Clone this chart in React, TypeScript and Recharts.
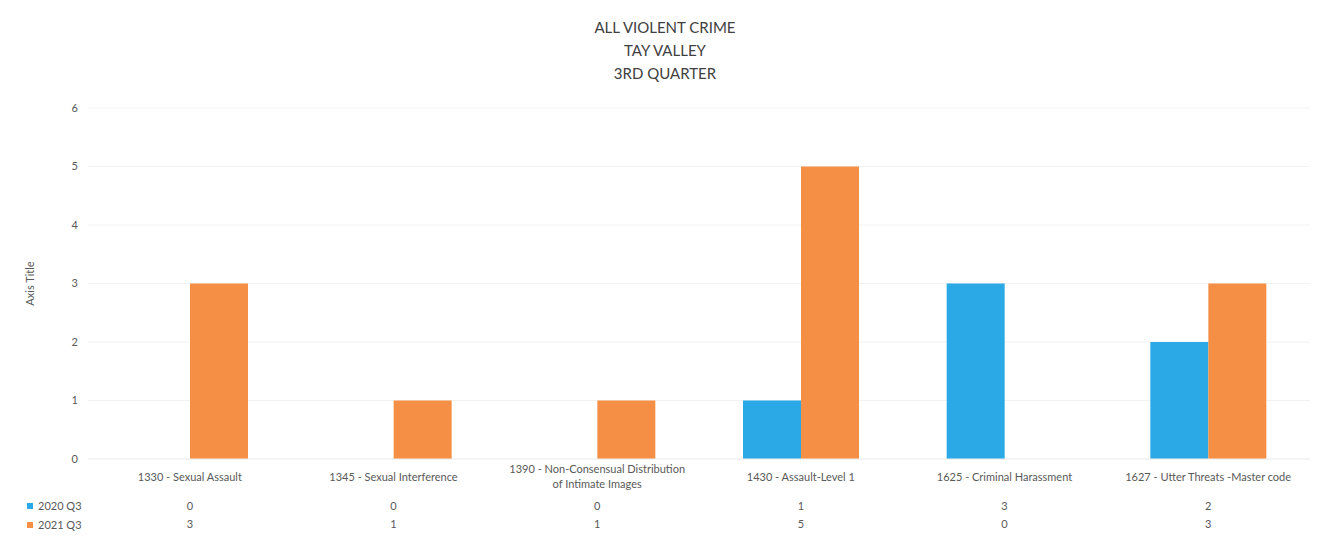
import { BarChart, Bar, XAxis, YAxis, CartesianGrid } from "recharts";

const categories = [
  "1330 - Sexual Assault",
  "1345 - Sexual Interference",
  "1390 - Non-Consensual Distribution of Intimate Images",
  "1430 - Assault-Level 1",
  "1625 - Criminal Harassment",
  "1627 - Utter Threats -Master code",
];
const q3_2020 = [0, 0, 0, 1, 3, 2];
const q3_2021 = [3, 1, 1, 5, 0, 3];
const seriesNames = ["2020 Q3", "2021 Q3"];
const yTicks = [0, 1, 2, 3, 4, 5, 6];
const titleLines = ["ALL VIOLENT CRIME", "TAY VALLEY", "3RD QUARTER"];

const BLUE = "#2aa9e6";
const ORANGE = "#f58f45";
const TEXT = "#595959";
const FONT = "Lato, 'Open Sans', sans-serif";

const data = categories.map((name, i) => ({
  name,
  q2020: q3_2020[i],
  q2021: q3_2021[i],
}));

// greedy wrap by character count
function wrap(s: string, max: number) {
  const lines: string[] = [];
  let cur = "";
  s.split(" ").forEach((w) => {
    const next = cur ? cur + " " + w : w;
    if (next.length > max && cur) {
      lines.push(cur);
      cur = w;
    } else {
      cur = next;
    }
  });
  if (cur) lines.push(cur);
  return lines;
}

function CategoryTick(props: any) {
  const { x, y, payload, index } = props;
  const row = data[index];
  const lines = wrap(String(payload.value), 36);
  const startY = y + 10 - ((lines.length - 1) * 15) / 2;
  return (
    <g fontSize={11} fontFamily={FONT} fill={TEXT}>
      {lines.map((l, i) => (
        <text key={i} x={x} y={startY + i * 15} dy="0.35em" textAnchor="middle">
          {l}
        </text>
      ))}
      <text x={x} y={y + 39} dy="0.35em" textAnchor="middle">
        {row ? row.q2020 : ""}
      </text>
      <text x={x} y={y + 57} dy="0.35em" textAnchor="middle">
        {row ? row.q2021 : ""}
      </text>
    </g>
  );
}

export default function App() {
  const colors = [BLUE, ORANGE];
  return (
    <div
      style={{
        position: "absolute",
        top: 0,
        left: 0,
        width: 1330,
        height: 538,
        background: "#fff",
        fontFamily: FONT,
      }}
    >
      <div
        style={{
          position: "absolute",
          top: 16,
          left: 0,
          width: 1330,
          textAlign: "center",
          fontSize: 15,
          lineHeight: "23px",
          color: "#404040",
        }}
      >
        {titleLines.map((t) => (
          <div key={t}>{t}</div>
        ))}
      </div>
      <div
        style={{
          position: "absolute",
          left: 27,
          top: 496,
          fontSize: 11,
          color: TEXT,
        }}
      >
        {seriesNames.map((s, i) => (
          <div key={s} style={{ height: 19, display: "flex", alignItems: "center" }}>
            <span
              style={{
                display: "inline-block",
                width: 6,
                height: 6,
                background: colors[i],
                marginRight: 5,
              }}
            />
            {s}
          </div>
        ))}
      </div>
      <BarChart
        width={1330}
        height={538}
        data={data}
        margin={{ top: 108, right: 20, bottom: 0, left: 28 }}
        barGap={0}
        barSize={58}
      >
        <CartesianGrid vertical={false} stroke="#f2f2f2" />
        <XAxis
          dataKey="name"
          interval={0}
          tickLine={false}
          axisLine={{ stroke: "#eeeeee" }}
          height={79}
          tick={<CategoryTick />}
        />
        <YAxis
          width={60}
          domain={[0, 6]}
          ticks={yTicks}
          tickLine={false}
          axisLine={false}
          tickSize={0}
          tickMargin={10}
          tick={{ fill: TEXT, fontSize: 11, fontFamily: FONT }}
          label={{
            value: "Axis Title",
            angle: -90,
            position: "center",
            dx: -28,
            fill: TEXT,
            fontSize: 11,
            fontFamily: FONT,
          }}
        />
        <Bar dataKey="q2020" name={seriesNames[0]} fill={BLUE} isAnimationActive={false} />
        <Bar dataKey="q2021" name={seriesNames[1]} fill={ORANGE} isAnimationActive={false} />
      </BarChart>
    </div>
  );
}
